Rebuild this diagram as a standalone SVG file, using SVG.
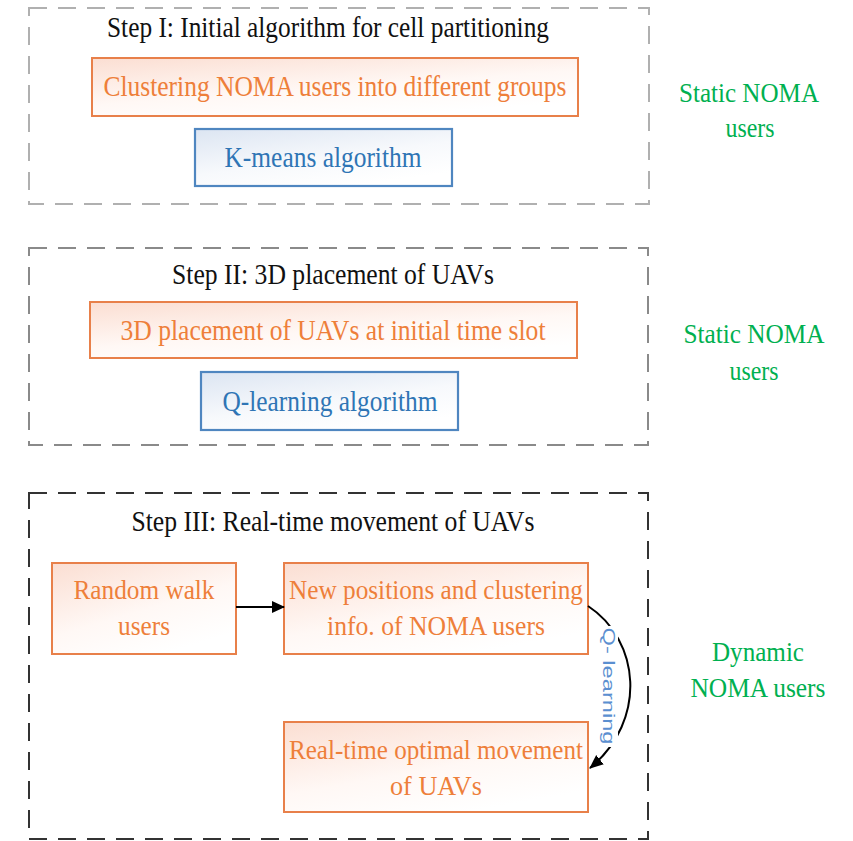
<svg xmlns="http://www.w3.org/2000/svg" width="853" height="841" viewBox="0 0 853 841">
<style>
.t{font-family:"Liberation Serif","Times New Roman",serif;font-size:30px;text-anchor:middle}
.s{font-size:28px}
.blk{fill:#111}
.or{fill:#ee7f3a}
.bl{fill:#2f75b5}
.gr{fill:#00b050}
.ob{fill:url(#og);stroke:#e8804a;stroke-width:2}
.bb{fill:url(#bg);stroke:#4f86c0;stroke-width:2.2}
.frame{fill:none;stroke-width:2;stroke-dasharray:18 11}
</style>
<defs>
<linearGradient id="og" x1="0" y1="0" x2="0.6" y2="1">
<stop offset="0" stop-color="#fbded2"/><stop offset="0.6" stop-color="#fff8f5"/><stop offset="1" stop-color="#ffffff"/>
</linearGradient>
<linearGradient id="bg" x1="0" y1="0" x2="0.6" y2="1">
<stop offset="0" stop-color="#dce5f2"/><stop offset="0.6" stop-color="#f7f9fc"/><stop offset="1" stop-color="#ffffff"/>
</linearGradient>
<marker id="ah" markerWidth="13" markerHeight="13" refX="12" refY="6.5" orient="auto" markerUnits="userSpaceOnUse">
<path d="M0,0.5 L13,6.5 L0,12.5 Z" fill="#000"/>
</marker>
<marker id="ah2" markerWidth="14" markerHeight="14" refX="13" refY="7" orient="auto" markerUnits="userSpaceOnUse">
<path d="M0,1 L14,7 L0,13 Z" fill="#000"/>
</marker>
</defs>
<rect width="853" height="841" fill="#fff"/>

<g id="step1">
<rect class="frame" x="29" y="8" width="620" height="196" stroke="#b0b0b0"/>
<text class="t blk" x="328" y="37" textLength="442" lengthAdjust="spacingAndGlyphs">Step I: Initial algorithm for cell partitioning</text>
</g>
<g id="cluster">
<rect class="ob" x="92" y="58" width="486" height="58"/>
<text class="t or" x="335" y="96" textLength="463" lengthAdjust="spacingAndGlyphs">Clustering NOMA users into different groups</text>
</g>
<g id="kmeans">
<rect class="bb" x="195" y="129" width="257" height="57"/>
<text class="t bl" x="323" y="167" textLength="197" lengthAdjust="spacingAndGlyphs">K-means algorithm</text>
</g>
<g id="label1">
<text class="t s gr" x="749" y="102" textLength="140" lengthAdjust="spacingAndGlyphs">Static NOMA</text>
<text class="t s gr" x="750" y="137" textLength="49" lengthAdjust="spacingAndGlyphs">users</text>
</g>

<g id="step2">
<rect class="frame" x="29" y="248" width="619" height="197" stroke="#8a8a8a"/>
<text class="t blk" x="333" y="284" textLength="322" lengthAdjust="spacingAndGlyphs">Step II: 3D placement of UAVs</text>
</g>
<g id="placement">
<rect class="ob" x="90" y="302" width="487" height="56"/>
<text class="t or" x="333" y="340" textLength="425" lengthAdjust="spacingAndGlyphs">3D placement of UAVs at initial time slot</text>
</g>
<g id="qlearn">
<rect class="bb" x="201" y="372" width="257" height="58"/>
<text class="t bl" x="330" y="411" textLength="215" lengthAdjust="spacingAndGlyphs">Q-learning algorithm</text>
</g>
<g id="label2">
<text class="t s gr" x="754" y="343" textLength="141" lengthAdjust="spacingAndGlyphs">Static NOMA</text>
<text class="t s gr" x="754" y="380" textLength="49" lengthAdjust="spacingAndGlyphs">users</text>
</g>

<g id="step3">
<rect class="frame" x="29" y="493" width="619" height="346" stroke="#333"/>
<text class="t blk" x="333" y="531" textLength="403" lengthAdjust="spacingAndGlyphs">Step III: Real-time movement of UAVs</text>
</g>
<g id="random">
<rect class="ob" x="52" y="563" width="184" height="91"/>
<text class="t s or" x="144" y="599" textLength="141" lengthAdjust="spacingAndGlyphs">Random walk</text>
<text class="t s or" x="144" y="635" textLength="52" lengthAdjust="spacingAndGlyphs">users</text>
</g>
<g id="newpos">
<rect class="ob" x="284" y="563" width="304" height="91"/>
<text class="t s or" x="436" y="599" textLength="294" lengthAdjust="spacingAndGlyphs">New positions and clustering</text>
<text class="t s or" x="436" y="635" textLength="218" lengthAdjust="spacingAndGlyphs">info. of NOMA users</text>
</g>
<g id="realtime">
<rect class="ob" x="284" y="722" width="304" height="90"/>
<text class="t s or" x="436" y="759" textLength="294" lengthAdjust="spacingAndGlyphs">Real-time optimal movement</text>
<text class="t s or" x="436" y="795" textLength="92" lengthAdjust="spacingAndGlyphs">of UAVs</text>
</g>
<g id="label3">
<text class="t s gr" x="758" y="661" textLength="92" lengthAdjust="spacingAndGlyphs">Dynamic</text>
<text class="t s gr" x="758" y="697" textLength="135" lengthAdjust="spacingAndGlyphs">NOMA users</text>
</g>

<g id="connectors">
<line x1="236" y1="607" x2="284" y2="607" stroke="#000" stroke-width="2" marker-end="url(#ah)"/>
<path d="M588,606 C640,640 648,720 590,768" fill="none" stroke="#000" stroke-width="2" marker-end="url(#ah2)"/>
<rect x="598" y="626" width="20" height="121" fill="#fff"/>
<text x="608" y="686" transform="rotate(90 608 686)" font-family="Liberation Sans, Arial, sans-serif" font-size="17" fill="#5b8fd0" text-anchor="middle" dominant-baseline="central" textLength="117" lengthAdjust="spacingAndGlyphs">Q- learning</text>
</g>
</svg>
